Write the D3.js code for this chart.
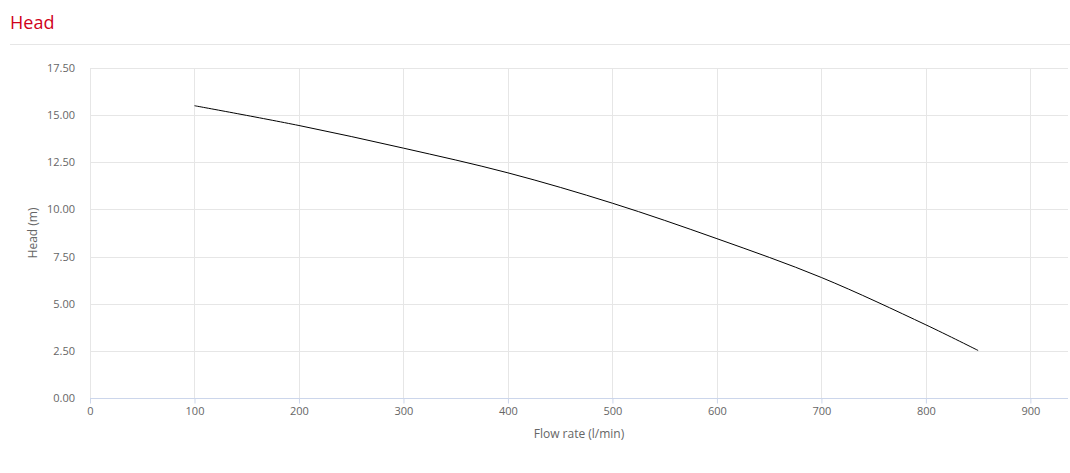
<!DOCTYPE html>
<html>
<head>
<meta charset="utf-8">
<script src="https://cdn.jsdelivr.net/npm/d3@7"></script>
<style>
  body { margin: 0; background: #fff; font-family: "Open Sans", sans-serif; }
  .title { position: absolute; left: 10px; top: 10px; font-size: 18px; color: #d0021b; }
  .sep { position: absolute; left: 10px; right: 0; top: 44px; border-top: 1px solid #e6e6e6; }
  svg { position: absolute; left: 0; top: 0; }
</style>
</head>
<body>
<div class="title">Head</div>
<div class="sep"></div>
<svg id="chart"></svg>
<script>
// flow rate (l/min) and head (m)
const flow = [100, 200, 300, 400, 500, 600, 700, 800, 850];
const head = [15.5, 14.45, 13.25, 11.94, 10.33, 8.45, 6.39, 3.88, 2.52];
const xTicks = [0, 100, 200, 300, 400, 500, 600, 700, 800, 900];
const yTicks = [0, 2.5, 5, 7.5, 10, 12.5, 15, 17.5];

var W = 1070, H = 473;
var margin = { left: 90, right: 2, top: 68, bottom: 75 };

var svg = d3.select("#chart").attr("width", W).attr("height", H);

var x = d3.scaleLinear().domain([0, 936]).range([margin.left, W - margin.right]);
var y = d3.scaleLinear().domain([0, 17.5]).range([H - margin.bottom, margin.top]);

var g = svg.append("g");

// grid lines
g.selectAll(".vgrid").data(xTicks).enter().append("line")
    .attr("x1", d => Math.round(x(d)) + 0.5).attr("x2", d => Math.round(x(d)) + 0.5)
    .attr("y1", y(17.5)).attr("y2", y(0))
    .attr("stroke", "#e6e6e6");
g.selectAll(".hgrid").data(yTicks).enter().append("line")
    .attr("x1", x(0)).attr("x2", W - margin.right)
    .attr("y1", d => Math.round(y(d)) + 0.5).attr("y2", d => Math.round(y(d)) + 0.5)
    .attr("stroke", "#e6e6e6");

// x axis
var xAxis = g.append("g")
    .attr("transform", "translate(0," + (Math.round(y(0)) + 0.5) + ")")
    .call(d3.axisBottom(x).tickValues(xTicks).tickSize(5).tickPadding(4).tickFormat(d3.format("d")));
xAxis.select(".domain").attr("stroke", "#ccd6eb").attr("d", "M" + x(0) + ",0H" + (W - margin.right));
xAxis.selectAll(".tick line").attr("stroke", "#ccd6eb");
xAxis.selectAll(".tick text").attr("fill", "#666").style("font-size", "11px").style("font-family", "Open Sans");

// y axis labels
var yAxis = g.append("g")
    .attr("transform", "translate(" + x(0) + ",0)")
    .call(d3.axisLeft(y).tickValues(yTicks).tickSize(0).tickPadding(15).tickFormat(d3.format(".2f")));
yAxis.select(".domain").remove();
yAxis.selectAll(".tick text").attr("fill", "#666").style("font-size", "11px").style("font-family", "Open Sans");

// axis titles
svg.append("text")
    .attr("x", (x(0) + W - margin.right) / 2).attr("y", 438)
    .attr("text-anchor", "middle").attr("fill", "#666")
    .style("font-size", "12px").text("Flow rate (l/min)");
svg.append("text")
    .attr("transform", "translate(37," + (y(0) + y(17.5)) / 2 + ") rotate(-90)")
    .attr("text-anchor", "middle").attr("fill", "#666")
    .style("font-size", "12px").text("Head (m)");

// the curve
var line = d3.line()
    .x((d, i) => x(flow[i]))
    .y(d => y(d))
    .curve(d3.curveCatmullRom);

g.append("path")
    .datum(head)
    .attr("fill", "none")
    .attr("stroke", "#000")
    .attr("stroke-width", 1)
    .attr("d", line);
</script>
</body>
</html>
